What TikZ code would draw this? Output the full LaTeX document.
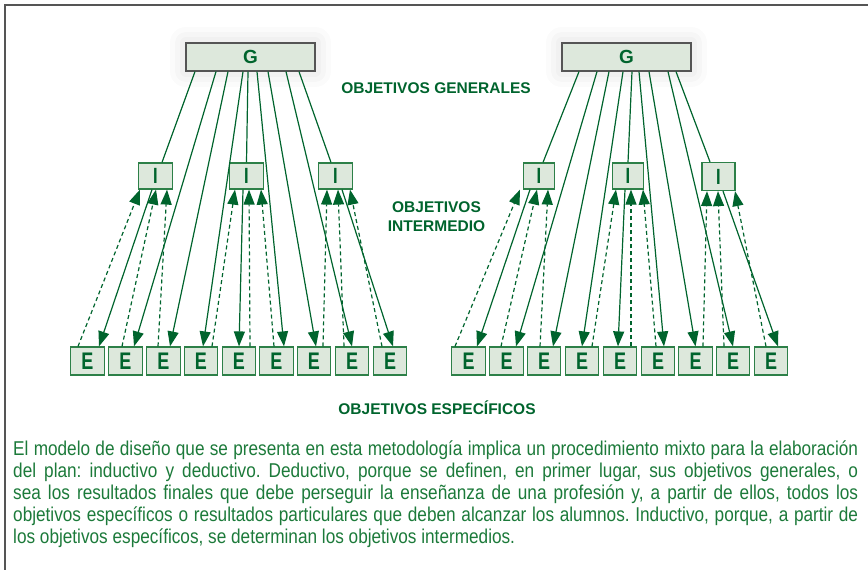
\documentclass[tikz,border=0pt]{standalone}
\usepackage{fontspec}
\setmainfont{Liberation Sans}
\newfontfamily\narrowfont{Liberation Sans}[FakeStretch=0.86]
\newfontfamily\boxfont{Liberation Sans}[UprightFont={* Bold}, FakeStretch=0.75]
\usetikzlibrary{arrows.meta}
\frenchspacing

\definecolor{objgreen}{RGB}{0,100,45}
\definecolor{txtgreen}{RGB}{28,122,58}
\definecolor{boxfill}{RGB}{221,232,220}
\definecolor{boxline}{RGB}{45,128,72}
\definecolor{framegray}{RGB}{85,85,85}

\tikzset{
	gbox/.style={draw=framegray, line width=1.2pt, fill=boxfill, minimum width=129pt, minimum height=28pt, inner sep=0pt,
		text=objgreen, font=\bfseries\fontsize{19}{20}\selectfont,
		preaction={draw=black, opacity=0.015, line width=32pt, line join=round},
		preaction={draw=black, opacity=0.018, line width=22pt, line join=round},
		preaction={draw=black, opacity=0.02, line width=12pt, line join=round}},
	ibox/.style={draw=boxline, line width=1.2pt, fill=boxfill, minimum width=34pt, minimum height=26pt, inner sep=0pt,
		text=objgreen, font=\boxfont\fontsize{22}{24}\selectfont},
	ebox/.style={draw=boxline, line width=1.2pt, fill=boxfill, minimum width=33.5pt, minimum height=28pt, inner sep=0pt,
		text=objgreen, font=\boxfont\fontsize{24}{24}\selectfont},
	label/.style={text=objgreen, font=\bfseries\fontsize{15.5}{19}\selectfont, align=center, inner sep=0pt},
	down/.style={draw=objgreen, line width=1.2pt, -{Triangle[length=15pt,width=11pt]}},
	up/.style={draw=objgreen, line width=1.2pt, dash pattern=on 4pt off 3pt, -{Triangle[length=15pt,width=11pt]}},
	plain/.style={draw=objgreen, line width=1.2pt}
}

\begin{document}
\begin{tikzpicture}[x=1pt, y=-1pt]
	\useasboundingbox (0,0) rectangle (868,570);
	% Frame
	\draw[framegray, line width=1.5pt] (868,5) -- (5,5) -- (5,570);

	% Left scheme
	\node[gbox] (gL) at (250.5,57) {G};
	\node[ibox] (iL1) at (155.5,176) {I};
	\node[ibox] (iL2) at (246.5,176) {I};
	\node[ibox] (iL3) at (335.5,176) {I};
	\node[ebox] (eL1) at (87.5,361) {E};
	\node[ebox] (eL2) at (125.5,361) {E};
	\node[ebox] (eL3) at (163.5,361) {E};
	\node[ebox] (eL4) at (201,361) {E};
	\node[ebox] (eL5) at (239,361) {E};
	\node[ebox] (eL6) at (276.5,361) {E};
	\node[ebox] (eL7) at (314,361) {E};
	\node[ebox] (eL8) at (352,361) {E};
	\node[ebox] (eL9) at (390,361) {E};

	% Right scheme
	\node[gbox] (gR) at (626.5,57) {G};
	\node[ibox, minimum width=31pt] (iR1) at (539,176) {I};
	\node[ibox, minimum width=31pt] (iR2) at (628,176) {I};
	\node[ibox, minimum width=33pt, minimum height=28pt] (iR3) at (718.5,176.5) {I};
	\node[ebox] (eR1) at (468.5,361) {E};
	\node[ebox] (eR2) at (506.5,361) {E};
	\node[ebox] (eR3) at (544,361) {E};
	\node[ebox] (eR4) at (582,361) {E};
	\node[ebox] (eR5) at (620,361) {E};
	\node[ebox] (eR6) at (658,361) {E};
	\node[ebox] (eR7) at (695.5,361) {E};
	\node[ebox] (eR8) at (733,361) {E};
	\node[ebox] (eR9) at (771,361) {E};

	% Labels
	\node[label] (lgen) at (436,88) {OBJETIVOS GENERALES};
	\node[label] (lint) at (436.5,216.5) {OBJETIVOS\\INTERMEDIO};
	\node[label] (lesp) at (437,408) {OBJETIVOS ESPECÍFICOS};

	% Left: G to I
	\draw[plain] ([xshift=-55.5pt]gL.south) -- ([xshift=6.5pt]iL1.north);
	\draw[plain] ([xshift=-2.5pt]gL.south) -- (iL2.north);
	\draw[plain] ([xshift=48.5pt]gL.south) -- ([xshift=-4.5pt]iL3.north);
	% Left: G to E
	\draw[down] ([xshift=-34.5pt]gL.south) -- ([xshift=8.5pt]eL2.north);
	\draw[down] ([xshift=-22.5pt]gL.south) -- ([xshift=6.5pt]eL3.north);
	\draw[down] ([xshift=-7.5pt]gL.south) -- ([xshift=2pt]eL4.north);
	\draw[down] ([xshift=6.5pt]gL.south) -- ([xshift=7.5pt]eL6.north);
	\draw[down] ([xshift=17.5pt]gL.south) -- ([xshift=2pt]eL7.north);
	\draw[down] ([xshift=35.5pt]gL.south) -- (eL8.north);
	% Left: I to E
	\draw[down] ([xshift=-3.5pt]iL1.south) -- ([xshift=11.5pt]eL1.north);
	\draw[down] ([xshift=-3.5pt]iL2.south) -- (eL5.north);
	\draw[down] ([xshift=6.5pt]iL3.south) -- ([xshift=3pt]eL9.north);
	% Left: E to I
	\draw[up] ([xshift=-9.5pt]eL1.north) -- ([xshift=-15.5pt]iL1.south);
	\draw[up] ([xshift=-3.5pt]eL2.north) -- ([xshift=0.5pt]iL1.south);
	\draw[up] ([xshift=-5.5pt]eL3.north) -- ([xshift=11.5pt]iL1.south);
	\draw[up] ([xshift=11pt]eL4.north) -- ([xshift=-11.5pt]iL2.south);
	\draw[up] ([xshift=11pt]eL5.north) -- ([xshift=2.5pt]iL2.south);
	\draw[up] ([xshift=-2.5pt]eL6.north) -- ([xshift=14.5pt]iL2.south);
	\draw[up] ([xshift=9pt]eL7.north) -- ([xshift=-8.5pt]iL3.south);
	\draw[up] ([xshift=-8pt]eL8.north) -- ([xshift=2.5pt]iL3.south);
	\draw[up] ([xshift=-8pt]eL9.north) -- ([xshift=14.5pt]iL3.south);

	% Right: G to I
	\draw[plain] ([xshift=-47.5pt]gR.south) -- ([xshift=4pt]iR1.north);
	\draw[plain] ([xshift=5.5pt]gR.south) -- (iR2.north);
	\draw[plain] ([xshift=49.5pt]gR.south) -- ([xshift=-8.5pt]iR3.north);
	% Right: G to E
	\draw[down] ([xshift=-29.5pt]gR.south) -- ([xshift=9.5pt]eR2.north);
	\draw[down] ([xshift=-17.5pt]gR.south) -- ([xshift=9pt]eR3.north);
	\draw[down] ([xshift=-3.5pt]gR.south) -- (eR4.north);
	\draw[down] ([xshift=12.5pt]gR.south) -- ([xshift=6pt]eR6.north);
	\draw[down] ([xshift=22.5pt]gR.south) -- (eR7.north);
	\draw[down] ([xshift=41.5pt]gR.south) -- (eR8.north);
	% Right: I to E
	\draw[down] ([xshift=-9pt]iR1.south) -- ([xshift=8.5pt]eR1.north);
	\draw[down] ([xshift=-3pt]iR2.south) -- ([xshift=-2pt]eR5.north);
	\draw[down] ([xshift=4.5pt]iR3.south) -- ([xshift=7pt]eR9.north);
	% Right: E to I
	\draw[up] ([xshift=-13.5pt]eR1.north) -- ([xshift=-19pt]iR1.south);
	\draw[up] ([xshift=-5.5pt]eR2.north) -- ([xshift=-2pt]iR1.south);
	\draw[up] ([xshift=-4pt]eR3.north) -- ([xshift=9pt]iR1.south);
	\draw[up] ([xshift=10pt]eR4.north) -- ([xshift=-12pt]iR2.south);
	\draw[up] ([xshift=11pt]eR5.north) -- ([xshift=3pt]iR2.south);
	\draw[up] ([xshift=-2pt]eR6.north) -- ([xshift=15pt]iR2.south);
	\draw[up] ([xshift=7.5pt]eR7.north) -- ([xshift=-11.5pt]iR3.south);
	\draw[up] ([xshift=-9pt]eR8.north) -- ([xshift=-0.5pt]iR3.south);
	\draw[up] ([xshift=-5pt]eR9.north) -- ([xshift=16.5pt]iR3.south);

	% Text
	\node[anchor=north west, inner sep=0pt, text width=845pt, align=justify, text=txtgreen,
		font=\narrowfont\fontsize{20}{22}\selectfont] (texto) at (13,440.5)
		{\hyphenpenalty=10000 \exhyphenpenalty=10000
		El modelo de diseño que se presenta en esta metodología implica un procedimiento mixto para la elaboración\linebreak
		del plan: inductivo y deductivo. Deductivo, porque se definen, en primer lugar, sus objetivos generales, o\linebreak
		sea los resultados finales que debe perseguir la enseñanza de una profesión y, a partir de ellos, todos los\linebreak
		objetivos específicos o resultados particulares que deben alcanzar los alumnos. Inductivo, porque, a partir de\linebreak
		los objetivos específicos, se determinan los objetivos intermedios.};
\end{tikzpicture}
\end{document}
